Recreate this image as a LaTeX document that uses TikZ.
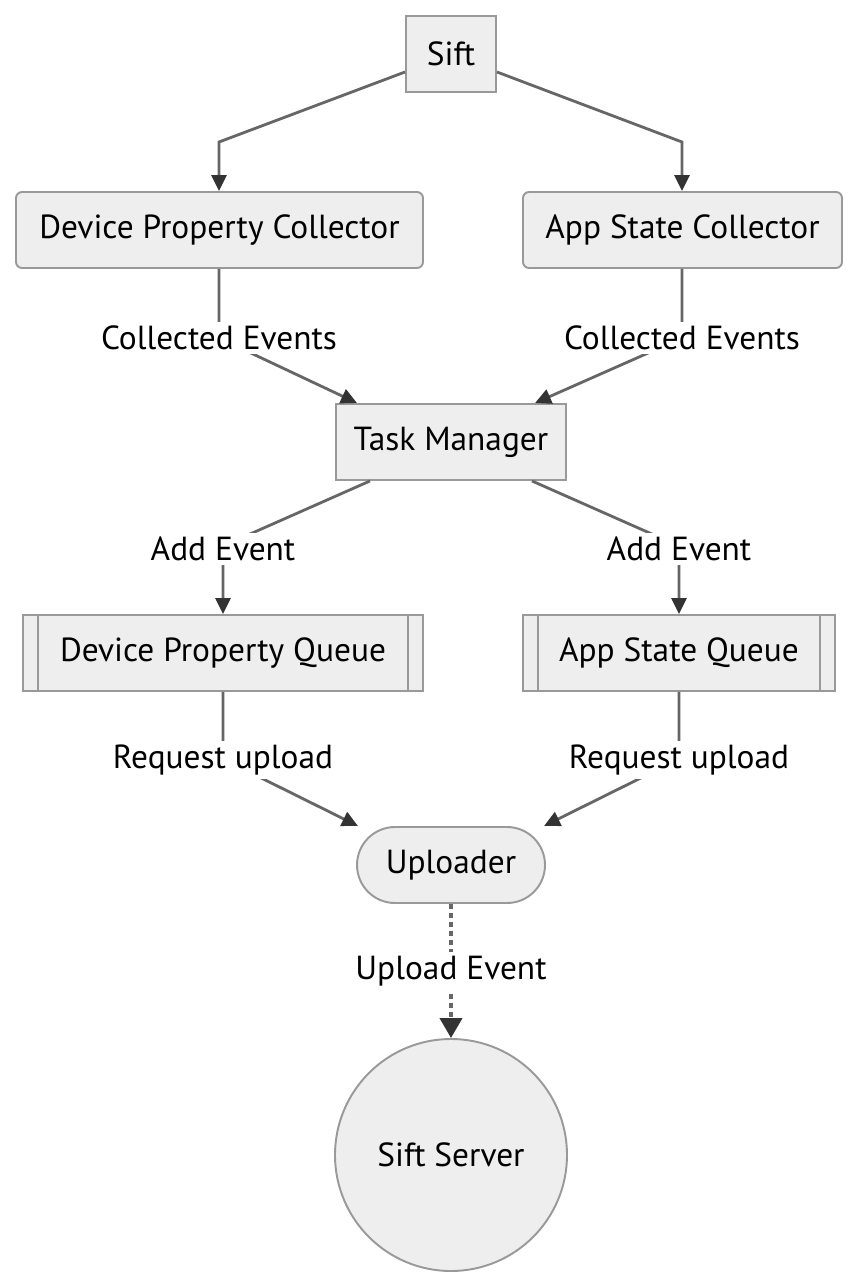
\documentclass[tikz,border=0pt]{standalone}
\usepackage{fontspec}
\setmainfont{PT Sans}
\usepackage{tikz}
\usetikzlibrary{positioning, arrows, arrows.meta}

\definecolor{boxfill}{HTML}{EEEEEE}
\definecolor{boxline}{HTML}{999999}
\definecolor{edgeline}{HTML}{666666}
\definecolor{tipcol}{HTML}{333333}

\tikzset{
  box/.style={draw=boxline, fill=boxfill, line width=1.1pt, minimum height=1.52cm, font=\fontsize{19}{22}\selectfont, inner sep=0pt},
  rbox/.style={box, rounded corners=0.12cm},
  qbox/.style={box},
  pill/.style={box, rounded corners=0.76cm},
  sphere/.style={box, circle, minimum size=4.64cm},
  lbl/.style={fill=white, inner sep=2pt, font=\fontsize{19}{22}\selectfont},
  flow/.style={draw=edgeline, line width=1.6pt, -{Triangle[length=0.32cm, width=0.3cm, color=tipcol]}},
  dotflow/.style={draw=edgeline, line width=2.2pt, dash pattern=on 0.1cm off 0.08cm, -{Triangle[length=0.4cm, width=0.44cm, color=tipcol]}},
}

\begin{document}
\begin{tikzpicture}
\useasboundingbox (0,0) rectangle (17.16,-25.72);
% nodes
\node[box, minimum width=1.8cm] (sift) at (9.02,-1.08) {Sift};
\node[rbox, minimum width=8.14cm] (dpc) at (4.39,-4.6) {Device Property Collector};
\node[rbox, minimum width=6.38cm] (asc) at (13.65,-4.6) {App State Collector};
\node[box, minimum width=4.6cm] (tm) at (9.02,-8.84) {Task Manager};
\node[qbox, minimum width=8.0cm] (dpq) at (4.46,-13.06) {Device Property Queue};
\node[qbox, minimum width=6.24cm] (asq) at (13.58,-13.06) {App State Queue};
\node[pill, minimum width=3.76cm] (up) at (9.02,-17.3) {Uploader};
\node[sphere] (srv) at (9.02,-23.1) {Sift Server};
% queue side bars
\foreach \q in {dpq, asq} {
  \draw[boxline, line width=1.1pt] ([xshift=0.32cm]\q.north west) -- ([xshift=0.32cm]\q.south west);
  \draw[boxline, line width=1.1pt] ([xshift=-0.32cm]\q.north east) -- ([xshift=-0.32cm]\q.south east);
}
% bends of the connectors
\coordinate (b1) at (4.38,-2.84);
\coordinate (b2) at (13.64,-2.84);
\coordinate (c1) at (4.38,-6.76);
\coordinate (c2) at (13.64,-6.76);
\coordinate (d1) at (4.46,-10.92);
\coordinate (d2) at (13.58,-10.92);
\coordinate (e1) at (4.46,-15.18);
\coordinate (e2) at (13.58,-15.18);
% Sift -> collectors
\draw[flow] ([yshift=-0.36cm]sift.west) -- (b1) -- (dpc.north -| b1);
\draw[flow] ([yshift=-0.36cm]sift.east) -- (b2) -- (asc.north -| b2);
% collectors -> task manager
\draw[flow] (dpc.south -| c1) -- (c1) -- ([xshift=-1.88cm]tm.north);
\draw[flow] (asc.south -| c2) -- (c2) -- ([xshift=1.68cm]tm.north);
\node[lbl] (l1) at (c1) {Collected Events};
\node[lbl] (l2) at (c2) {Collected Events};
% task manager -> queues
\draw[flow] ([xshift=-1.62cm]tm.south) -- (d1) -- (dpq.north);
\draw[flow] ([xshift=1.62cm]tm.south) -- (d2) -- (asq.north);
\node[lbl] (l3) at (4.46,-10.98) {Add Event};
\node[lbl] (l4) at (13.58,-10.98) {Add Event};
% queues -> uploader
\draw[flow] (dpq.south) -- (e1) -- ([xshift=-1.86cm]up.north);
\draw[flow] (asq.south) -- (e2) -- ([xshift=1.86cm]up.north);
\node[lbl] (l5) at (4.46,-15.2) {Request upload};
\node[lbl] (l6) at (13.58,-15.2) {Request upload};
% uploader -> server
\draw[dotflow] (up.south) -- (srv.north);
\node[lbl] (l7) at (9.02,-19.42) {Upload Event};
\end{tikzpicture}
\end{document}
